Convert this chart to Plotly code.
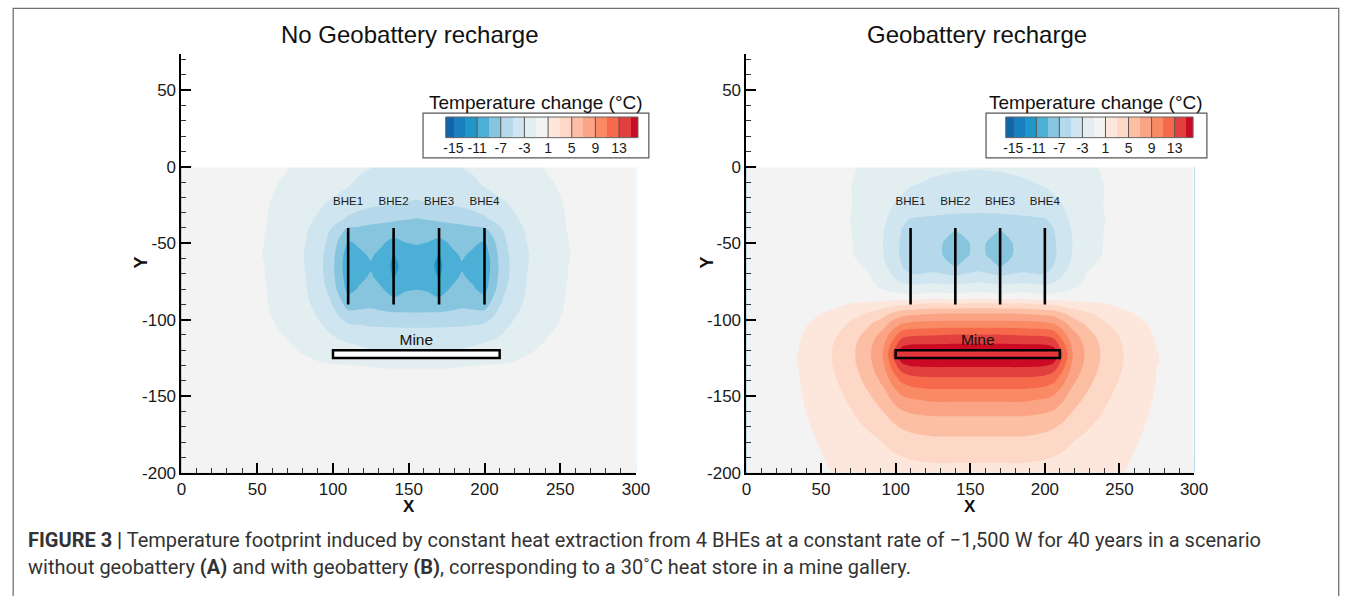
import plotly.graph_objects as go

W, H = 1354, 596

# ---------------------------------------------------------------------------
# Temperature-change fields (deg C).  Columns follow the x nodes (m); the right
# half of each field is the mirror image about the BHE array centre (x = 155).
# ---------------------------------------------------------------------------

# (A) no geobattery recharge
x_a_half = [0, 35, 56, 70, 82, 92, 98, 104, 110, 117.5, 125, 132.5, 140, 148, 155]
y_a = [0, -12, -24, -34, -42, -50, -58, -65, -72, -80, -88, -96, -105, -114,
       -122, -130, -140, -160, -200]
dT_a_half = [
    [-0.1, -0.45, -0.7, -0.95, -1.4, -1.75, -2.0, -2.25, -2.5, -2.75, -2.95, -3.15, -3.3, -3.45, -3.6],
    [-0.1, -0.5, -0.8, -1.2, -1.6, -2.0, -2.3, -2.6, -2.9, -3.3, -3.6, -3.8, -4.0, -4.1, -4.2],
    [-0.1, -0.55, -0.9, -1.5, -2.1, -2.85, -3.2, -3.5, -3.9, -4.2, -4.5, -4.7, -4.9, -5.05, -5.2],
    [-0.1, -0.6, -0.97, -1.85, -2.6, -3.3, -3.9, -4.6, -5.3, -5.9, -6.4, -6.55, -6.7, -6.9, -7.05],
    [-0.1, -0.62, -1.01, -2.1, -2.85, -3.9, -5.1, -6.4, -7.6, -7.65, -7.7, -7.8, -8.0, -8.0, -8.0],
    [-0.1, -0.65, -1.03, -2.2, -3.0, -4.3, -5.6, -7.4, -9.3, -8.7, -8.4, -8.8, -9.8, -9.05, -8.9],
    [-0.1, -0.66, -1.05, -2.3, -3.1, -4.6, -5.9, -8.0, -10.1, -9.4, -8.8, -9.6, -11.1, -10.1, -9.6],
    [-0.1, -0.66, -1.02, -2.2, -3.05, -4.7, -6.0, -8.2, -10.3, -9.6, -9.2, -10.0, -11.4, -10.4, -9.9],
    [-0.1, -0.64, -1.02, -2.2, -3.0, -4.6, -5.9, -8.0, -10.1, -9.4, -8.8, -9.6, -11.1, -10.1, -9.7],
    [-0.1, -0.6, -0.99, -2.0, -2.9, -4.3, -5.5, -7.6, -9.6, -8.8, -8.3, -8.9, -9.8, -9.2, -9.05],
    [-0.1, -0.55, -0.95, -1.8, -2.7, -3.9, -4.9, -6.5, -8.3, -7.9, -7.5, -8.0, -8.6, -8.2, -8.0],
    [-0.1, -0.5, -0.85, -1.6, -2.4, -3.4, -4.1, -5.3, -6.5, -6.55, -6.6, -6.7, -6.8, -6.85, -6.9],
    [-0.1, -0.45, -0.7, -1.3, -2.0, -2.8, -3.3, -3.9, -4.4, -4.7, -4.9, -4.97, -5.02, -5.04, -5.05],
    [-0.1, -0.35, -0.55, -0.98, -1.6, -2.2, -2.6, -2.9, -3.1, -3.3, -3.5, -3.55, -3.6, -3.6, -3.6],
    [-0.05, -0.3, -0.4, -0.7, -1.1, -1.5, -1.8, -2.1, -2.4, -2.55, -2.7, -2.75, -2.8, -2.8, -2.8],
    [0.0, -0.2, -0.3, -0.4, -0.6, -0.8, -0.85, -0.9, -0.95, -1.0, -1.05, -1.08, -1.1, -1.1, -1.1],
    [0.0, -0.15, -0.2, -0.3, -0.4, -0.5, -0.55, -0.55, -0.6, -0.6, -0.6, -0.6, -0.6, -0.6, -0.6],
    [0.0, -0.1, -0.12, -0.15, -0.2, -0.25, -0.27, -0.28, -0.3, -0.3, -0.3, -0.3, -0.3, -0.3, -0.3],
    [0.0, -0.05, -0.05, -0.05, -0.08, -0.1, -0.1, -0.1, -0.1, -0.1, -0.1, -0.1, -0.1, -0.1, -0.1],
]

# (B) geobattery recharge (30 degC heat store in the mine gallery)
x_b_half = [0, 35, 56, 70, 82, 92, 98, 104, 110, 125, 140, 148, 155]
y_b = [0, -12, -24, -34, -42, -50, -58, -65, -72, -79, -85, -90, -96, -103,
       -110, -116, -122, -128, -134, -142, -152, -164, -178, -200]
dT_b_half = [
    [-0.1, -0.4, -0.65, -0.85, -1.25, -1.55, -1.75, -1.95, -2.2, -2.6, -2.8, -2.85, -2.9],
    [-0.1, -0.45, -0.75, -0.98, -1.5, -1.95, -2.25, -2.55, -2.9, -3.3, -3.5, -3.55, -3.6],
    [-0.1, -0.5, -0.7, -0.95, -1.75, -2.5, -2.95, -3.4, -3.8, -4.2, -4.4, -4.45, -4.5],
    [-0.1, -0.45, -0.72, -1.02, -1.9, -2.8, -3.35, -4.75, -5.05, -5.2, -5.3, -5.3, -5.3],
    [-0.1, -0.45, -0.72, -0.97, -1.95, -3.0, -4.0, -5.05, -5.8, -6.1, -7.05, -6.6, -6.1],
    [-0.1, -0.42, -0.7, -0.9, -1.9, -3.05, -4.2, -5.25, -6.2, -6.6, -7.5, -7.15, -6.5],
    [-0.1, -0.4, -0.65, -0.85, -1.75, -3.0, -4.2, -5.3, -6.3, -6.6, -7.5, -7.1, -6.6],
    [-0.1, -0.35, -0.55, -0.75, -1.15, -2.6, -3.8, -4.9, -6.0, -5.9, -7.1, -6.4, -5.8],
    [-0.05, -0.25, -0.4, -0.55, -0.9, -1.9, -2.9, -3.9, -4.6, -4.3, -4.7, -4.3, -4.1],
    [0.0, 0.05, -0.1, -0.35, -0.65, -1.2, -1.7, -2.2, -2.4, -2.1, -2.3, -2.1, -2.0],
    [0.0, 0.0, 0.05, 0.1, 0.0, -0.2, -0.2, -0.3, -0.4, 0.0, -0.2, 0.0, 0.0],
    [0.05, 0.25, 0.65, 1.1, 1.5, 1.9, 2.3, 2.7, 2.9, 3.5, 3.4, 3.6, 3.6],
    [0.08, 0.45, 1.2, 2.3, 3.3, 4.3, 5.3, 6.2, 6.5, 6.9, 7.0, 7.0, 7.0],
    [0.1, 0.65, 1.8, 3.3, 4.8, 6.3, 7.9, 9.2, 9.6, 9.9, 10.0, 10.0, 10.0],
    [0.15, 0.82, 2.45, 4.0, 5.8, 7.9, 10.0, 12.2, 12.7, 12.9, 13.1, 13.1, 13.1],
    [0.2, 0.95, 2.75, 4.4, 6.4, 8.8, 11.7, 14.3, 14.9, 15.0, 15.1, 15.1, 15.1],
    [0.3, 1.02, 2.85, 4.5, 6.6, 9.2, 12.9, 16.5, 17.2, 17.5, 17.5, 17.5, 17.5],
    [0.3, 1.03, 2.85, 4.45, 6.5, 9.0, 12.2, 15.05, 15.8, 16.0, 16.0, 16.0, 16.0],
    [0.3, 0.98, 2.7, 4.2, 6.1, 8.4, 10.9, 13.05, 13.7, 14.0, 14.0, 14.0, 14.0],
    [0.28, 0.92, 2.45, 3.8, 5.5, 7.3, 9.2, 10.8, 11.4, 11.8, 11.8, 11.8, 11.8],
    [0.25, 0.83, 2.1, 3.3, 4.6, 6.0, 7.3, 8.4, 8.9, 9.35, 9.35, 9.35, 9.35],
    [0.22, 0.7, 1.75, 2.7, 3.7, 4.6, 5.4, 6.0, 6.4, 6.8, 6.8, 6.8, 6.8],
    [0.2, 0.58, 1.35, 2.0, 2.6, 3.2, 3.7, 4.1, 4.4, 4.75, 4.75, 4.75, 4.75],
    [0.18, 0.45, 0.97, 1.2, 1.4, 1.7, 1.9, 2.0, 2.1, 2.3, 2.3, 2.3, 2.3],
]

# Borehole heat exchangers and mine gallery
bhe_x = [110, 140, 170, 200]
bhe_names = ["BHE1", "BHE2", "BHE3", "BHE4"]
bhe_depth = [-40, -90]
bhe_label_y = -23
mine_x = [100, 210]
mine_y = [-125, -120]
mine_label_xy = [155, -114]

# Model domain and axis ticks
domain_x = [0, 300]
domain_y = [-200, 0]
x_ticks = [0, 50, 100, 150, 200, 250, 300]
y_ticks = [-200, -150, -100, -50, 0, 50]

# Contour levels and legend
level_start, level_end, level_size = -17, 17, 2
band_colors = [
    "#0f66ab", "#1a7fc0", "#2196c9", "#4cafd5", "#87c5df", "#b5d9ea",
    "#cfe5f0", "#e3eef1", "#f3f3f3", "#fde6dc", "#fdd8c7", "#fcbfa4",
    "#fba385", "#f98a63", "#f66a4b", "#e1403f", "#cb0b24",
]
band_mids = [-16, -14, -12, -10, -8, -6, -4, -2, 0, 2, 4, 6, 8, 10, 12, 14, 16]
legend_ticks = [-15, -11, -7, -3, 1, 5, 9, 13]
legend_range = [-16.3, 16.2]


def mirror_x(xs, centre=155):
    return xs + [2 * centre - x for x in reversed(xs[:-1])]


def mirror_rows(rows):
    return [r + r[-2::-1] for r in rows]


def px_x(p):
    """pixel column -> paper x"""
    return p / W


def px_y(p):
    """pixel row (from top) -> paper y"""
    return 1 - p / H


n = len(band_colors)
colorscale = []
for i, c in enumerate(band_colors):
    colorscale.append([i / n, c])
    colorscale.append([(i + 1) / n, c])

fields = [
    (mirror_x(x_a_half), y_a, mirror_rows(dT_a_half)),
    (mirror_x(x_b_half), y_b, mirror_rows(dT_b_half)),
]

ARIAL = "Liberation Sans, Arial, sans-serif"
fig = go.Figure()

axes_ids = [("x", "y"), ("x2", "y2")]
for (xa, ya), (xs, ys, zs) in zip(axes_ids, fields):
    fig.add_trace(go.Contour(
        x=xs, y=ys[::-1], z=zs[::-1],
        colorscale=colorscale, showscale=False,
        contours=dict(start=level_start, end=level_end, size=level_size,
                      coloring="fill", showlines=False),
        line=dict(width=0, smoothing=0.8),
        hoverinfo="skip", xaxis=xa, yaxis=ya,
    ))
    # BHE lines
    lx, ly = [], []
    for bx in bhe_x:
        lx += [bx, bx, None]
        ly += [bhe_depth[0], bhe_depth[1], None]
    fig.add_trace(go.Scatter(x=lx, y=ly, mode="lines",
                             line=dict(color="black", width=2.6),
                             hoverinfo="skip", showlegend=False,
                             xaxis=xa, yaxis=ya))
    fig.add_trace(go.Scatter(x=bhe_x, y=[bhe_label_y] * len(bhe_x),
                             text=bhe_names, mode="text",
                             textfont=dict(family=ARIAL, size=11.5, color="#1a1a1a"),
                             hoverinfo="skip", showlegend=False,
                             xaxis=xa, yaxis=ya))
    fig.add_trace(go.Scatter(x=[mine_label_xy[0]], y=[mine_label_xy[1]],
                             text=["Mine"], mode="text",
                             textfont=dict(family=ARIAL, size=15.5, color="#111"),
                             hoverinfo="skip", showlegend=False,
                             xaxis=xa, yaxis=ya))

# Legend colour bars (one per panel)
for xa, ya in [("x3", "y3"), ("x4", "y4")]:
    fig.add_trace(go.Heatmap(x=band_mids, y=[0], z=[band_mids],
                             colorscale=colorscale, zmin=level_start, zmax=level_end,
                             showscale=False, hoverinfo="skip",
                             xaxis=xa, yaxis=ya))

# ---------------------------------------------------------------------------
# Layout
# ---------------------------------------------------------------------------
y_dom = [px_y(480.7), px_y(54.5)]
panel_x = [(179, 640), (752, 1206)]

tickfont = dict(family=ARIAL, size=17, color="#1a1a1a")


def main_axis(domain, rng, anchor, ticks):
    return dict(domain=domain, range=rng, anchor=anchor,
                tickmode="array", tickvals=ticks, ticktext=[str(t) for t in ticks],
                showline=True, linecolor="black", linewidth=2,
                ticks="inside", ticklen=10, tickwidth=2, tickcolor="black",
                minor=dict(ticks="inside", ticklen=5, tickwidth=1,
                           tickcolor="#333", tickmode="linear", tick0=0,
                           dtick=10, showgrid=False),
                showgrid=False, zeroline=False, tickfont=tickfont,
                fixedrange=True)


layout = dict(
    width=W, height=H, margin=dict(l=0, r=0, t=0, b=0),
    paper_bgcolor="white", plot_bgcolor="white", showlegend=False,
    xaxis=main_axis([px_x(panel_x[0][0]), px_x(panel_x[0][1])], domain_x, "y", x_ticks),
    yaxis=main_axis(y_dom, [-200, 74], "x", y_ticks),
    xaxis2=main_axis([px_x(panel_x[1][0]), px_x(panel_x[1][1])], domain_x, "y2", x_ticks),
    yaxis2=main_axis(y_dom, [-200, 74], "x2", y_ticks),
)

bar_px = [(447, 642), (1015, 1205)]
bar_y = [px_y(140), px_y(119)]
for k, (bx0, bx1) in enumerate(bar_px):
    xn, yn = f"xaxis{k + 3}", f"yaxis{k + 3}"
    layout[xn] = dict(domain=[px_x(bx0), px_x(bx1)], range=legend_range,
                      anchor=f"y{k + 3}", tickvals=legend_ticks,
                      ticktext=[str(t) for t in legend_ticks],
                      ticks="", showline=False, showgrid=False, zeroline=False,
                      tickfont=dict(family=ARIAL, size=14, color="#1a1a1a"),
                      fixedrange=True)
    layout[yn] = dict(domain=bar_y, range=[-0.5, 0.5], anchor=f"x{k + 3}",
                      visible=False, fixedrange=True)

fig.update_layout(**layout)

shapes = []
for xa, ya in axes_ids:
    # crisp open edges of the model domain (top surface and right boundary)
    shapes.append(dict(type="line", xref=xa, yref=ya, layer="above",
                       x0=domain_x[0] + 7, x1=domain_x[1], y0=domain_y[1], y1=domain_y[1],
                       line=dict(color="white", width=1.4)))
    shapes.append(dict(type="line", xref=xa, yref=ya, layer="above",
                       x0=domain_x[1], x1=domain_x[1], y0=domain_y[0] + 7, y1=domain_y[1],
                       line=dict(color="white", width=1.4)))
# mine gallery rectangles
for (xa, ya), fill in zip(axes_ids, ["white", "#e5363b"]):
    shapes.append(dict(type="rect", xref=xa, yref=ya,
                       x0=mine_x[0], x1=mine_x[1], y0=mine_y[0], y1=mine_y[1],
                       line=dict(color="black", width=2.5), fillcolor=fill))
# legend boxes
for bx0, bx1 in [(424, 653), (995, 1219)]:
    shapes.append(dict(type="rect", xref="paper", yref="paper",
                       x0=px_x(bx0), x1=px_x(bx1), y0=px_y(160.5), y1=px_y(115),
                       line=dict(color="#555", width=1.2), fillcolor="rgba(0,0,0,0)"))
# colour-bar outlines and group separators
for k in range(2):
    xr, yr = f"x{k + 3}", f"y{k + 3} domain"
    shapes.append(dict(type="rect", xref=f"x{k + 3} domain", yref=yr,
                       x0=0, x1=1, y0=0, y1=1, line=dict(color="#666", width=1)))
    for t in legend_ticks:
        shapes.append(dict(type="line", xref=xr, yref=yr, x0=t, x1=t, y0=0, y1=1,
                           line=dict(color="#555", width=1)))
# figure frame
shapes.append(dict(type="rect", xref="paper", yref="paper",
                   x0=px_x(8.3), x1=px_x(1352.7), y0=-0.05, y1=px_y(8.5),
                   line=dict(color="#727272", width=1.3)))

annotations = []
for cx, title in [(410, "No Geobattery recharge"), (985.5, "Geobattery recharge")]:
    annotations.append(dict(x=px_x(cx), y=px_y(35), xref="paper", yref="paper",
                            text=title, showarrow=False, xanchor="center", yanchor="middle",
                            font=dict(family=ARIAL, size=24, color="#111")))
for cx in [538.5, 1107]:
    annotations.append(dict(x=px_x(cx), y=px_y(104), xref="paper", yref="paper",
                            text="Temperature change (°C)", showarrow=False,
                            xanchor="center", yanchor="middle",
                            font=dict(family=ARIAL, size=19, color="#111")))
for cx in [409.5, 979]:
    annotations.append(dict(x=px_x(cx), y=px_y(515), xref="paper", yref="paper",
                            text="<b>X</b>", showarrow=False, xanchor="center", yanchor="middle",
                            font=dict(family=ARIAL, size=17, color="#111")))
for cx in [137, 711]:
    annotations.append(dict(x=px_x(cx), y=px_y(267), xref="paper", yref="paper",
                            text="<b>Y</b>", showarrow=False, textangle=-90,
                            xanchor="center", yanchor="middle",
                            font=dict(family=ARIAL, size=18, color="#111")))

caption_font = dict(family="Roboto, sans-serif", size=20, color="#333")
annotations.append(dict(
    x=px_x(21), y=px_y(549), xref="paper", yref="paper", showarrow=False,
    xanchor="left", yanchor="middle", align="left", font=caption_font,
    text="<b>FIGURE 3 |</b> Temperature footprint induced by constant heat extraction "
         "from 4 BHEs at a constant rate of \u22121,500 W for 40 years in a scenario"))
annotations.append(dict(
    x=px_x(21), y=px_y(577), xref="paper", yref="paper", showarrow=False,
    xanchor="left", yanchor="middle", align="left", font=caption_font,
    text="without geobattery <b>(A)</b> and with geobattery <b>(B)</b>, corresponding "
         "to a 30\u02daC heat store in a mine gallery."))

fig.update_layout(shapes=shapes, annotations=annotations)
fig.write_html("out.html")
